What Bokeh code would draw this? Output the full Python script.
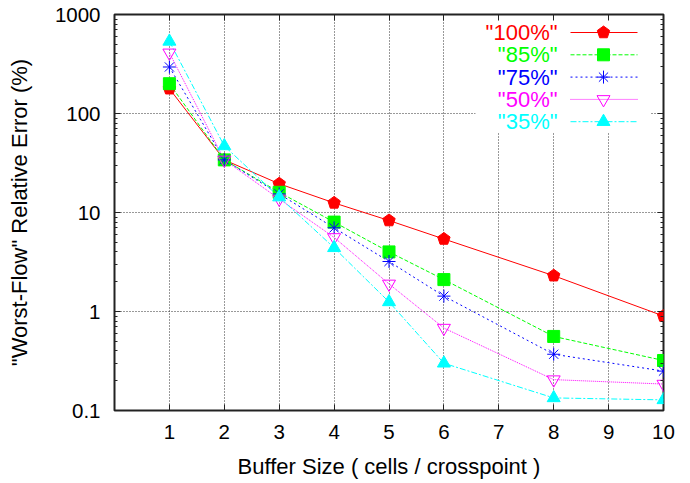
from bokeh.plotting import figure
from bokeh.models import (FixedTicker, LinearAxis, LogAxis, Range1d, LinearScale,
                          CustomJSTickFormatter)
from bokeh.embed import file_html
from bokeh.resources import INLINE

# ---------------- data ----------------
buffer_sizes = [1, 2, 3, 4, 5, 6, 8, 10]
load_100 = [178, 34, 19.5, 12.5, 8.3, 5.4, 2.3, 0.9]
load_85 = [200, 34, 16.0, 8.0, 4.0, 2.1, 0.56, 0.32]
load_75 = [295, 34, 15.4, 7.0, 3.2, 1.43, 0.37, 0.25]
load_50 = [410, 34, 13.7, 5.6, 1.9, 0.68, 0.205, 0.185]
load_35 = [535, 47, 14.3, 4.4, 1.25, 0.30, 0.134, 0.128]
series_labels = ['"100%"', '"85%"', '"75%"', '"50%"', '"35%"']
x_ticks = [1, 2, 3, 4, 5, 6, 7, 8, 9, 10]
y_ticks = [0.1, 1, 10, 100, 1000]
y_tick_labels = ["0.1", "1", "10", "100", "1000"]
x_title = "Buffer Size ( cells / crosspoint )"
y_title = '"Worst-Flow" Relative Error (%)'

# ---------------- styles ----------------
FONT = "Liberation Sans"
colors = ["#ff0000", "#00ff00", "#0000ff", "#ff00ff", "#00ffff"]
dashes = ["solid", "4 2", "2 3", "1 1", "6 2 2 2"]
series = [load_100, load_85, load_75, load_50, load_35]

W, H = 682, 483
BL, BR, BT, BB = 114, 19, 14, 73
FW, FH = W - BL - BR, H - BT - BB

p = figure(width=W, height=H, x_range=Range1d(0, 10), y_range=Range1d(0.1, 1000),
           y_axis_type="log", output_backend="svg", toolbar_location=None,
           min_border_left=BL, min_border_right=BR, min_border_top=BT,
           min_border_bottom=BB)
p.extra_x_ranges = {"px": Range1d(0, FW)}
p.extra_y_ranges = {"px": Range1d(FH, 0)}
p.extra_x_scales = {"px": LinearScale()}
p.extra_y_scales = {"px": LinearScale()}

p.outline_line_color = "#222222"
p.outline_line_width = 2
p.background_fill_color = "white"
p.border_fill_color = "white"

minor_y = [m * d for d in [0.1, 1, 10, 100] for m in range(2, 10)]
xt = FixedTicker(ticks=x_ticks, minor_ticks=[])
yt = FixedTicker(ticks=y_ticks, minor_ticks=minor_y)
yfmt = CustomJSTickFormatter(args=dict(tvals=y_ticks, tlabels=y_tick_labels),
                             code="const i = tvals.indexOf(tick); return i >= 0 ? tlabels[i] : '';")
blank = CustomJSTickFormatter(code="return '';")

def style_axis(ax):
    ax.axis_line_color = None
    ax.major_tick_in = 6
    ax.major_tick_out = 0
    ax.minor_tick_in = 3
    ax.minor_tick_out = 0
    ax.major_tick_line_color = "#222222"
    ax.minor_tick_line_color = "#222222"
    ax.major_label_text_font = FONT
    ax.major_label_text_font_size = "20.5px"
    ax.major_label_text_color = "black"
    ax.axis_label_text_font = FONT
    ax.axis_label_text_font_size = "22px"
    ax.axis_label_text_font_style = "normal"
    ax.axis_label_text_color = "black"

xa = p.xaxis[0]
xa.ticker = xt
xa.axis_label = x_title
xa.major_label_standoff = 14
xa.axis_label_standoff = 12
style_axis(xa)

ya = p.yaxis[0]
ya.ticker = yt
ya.formatter = yfmt
ya.axis_label = y_title
ya.major_label_standoff = 14
ya.axis_label_standoff = 20
style_axis(ya)

top = LinearAxis(ticker=xt, formatter=blank, major_label_standoff=0)
style_axis(top)
top.major_label_text_font_size = "1px"
p.add_layout(top, "above")
right = LogAxis(ticker=yt, formatter=blank, major_label_standoff=0)
style_axis(right)
right.major_label_text_font_size = "1px"
p.add_layout(right, "right")

p.xgrid.ticker = FixedTicker(ticks=x_ticks)
p.ygrid.ticker = FixedTicker(ticks=y_ticks)
for g in (p.xgrid[0], p.ygrid[0]):
    g.grid_line_color = "#333333"
    g.grid_line_dash = "1 2"
    g.grid_line_width = 1

# ---------------- data series ----------------
for vals, c, d in zip(series, colors, dashes):
    p.line(buffer_sizes, vals, line_color=c, line_dash=d, line_width=1)

def draw_marker(i, xs, ys, **kw):
    c = colors[i]
    if i == 0:
        p.ngon(x=xs, y=ys, radius=6.5, radius_units="screen", n=5, angle=0,
               fill_color=c, line_color=c, **kw)
    elif i == 1:
        p.scatter(xs, ys, marker="square", size=12, fill_color=c, line_color=c, **kw)
    elif i == 2:
        p.scatter(xs, ys, marker="asterisk", size=13, line_color=c, line_width=1, **kw)
    elif i == 3:
        p.scatter(xs, ys, marker="inverted_triangle", size=13, fill_color=None,
                  line_color=c, line_width=1, **kw)
    else:
        p.scatter(xs, ys, marker="triangle", size=13, fill_color=c, line_color=c, **kw)

for i, vals in enumerate(series):
    draw_marker(i, buffer_sizes, vals)

# ---------------- legend (in frame pixel space) ----------------
px = dict(x_range_name="px", y_range_name="px")
n = len(series_labels)
row0, row_step = 18, 22.3
rows = [row0 + k * row_step for k in range(n)]
p.quad(left=[361], right=[536], top=[4], bottom=[rows[-1] + 11], fill_color="white",
       line_color=None, **px)
p.text(x=[443] * n, y=rows, text=series_labels, text_align="right",
       text_baseline="middle", text_color=colors, text_font_size="22px",
       text_font={"value": FONT}, **px)
for k in range(n):
    p.segment(x0=[456], x1=[523], y0=[rows[k]], y1=[rows[k]], line_color=colors[k],
              line_dash=dashes[k], line_width=1, **px)
    draw_marker(k, [489], [rows[k]], **px)

open("out.html", "w").write(file_html(p, INLINE))
